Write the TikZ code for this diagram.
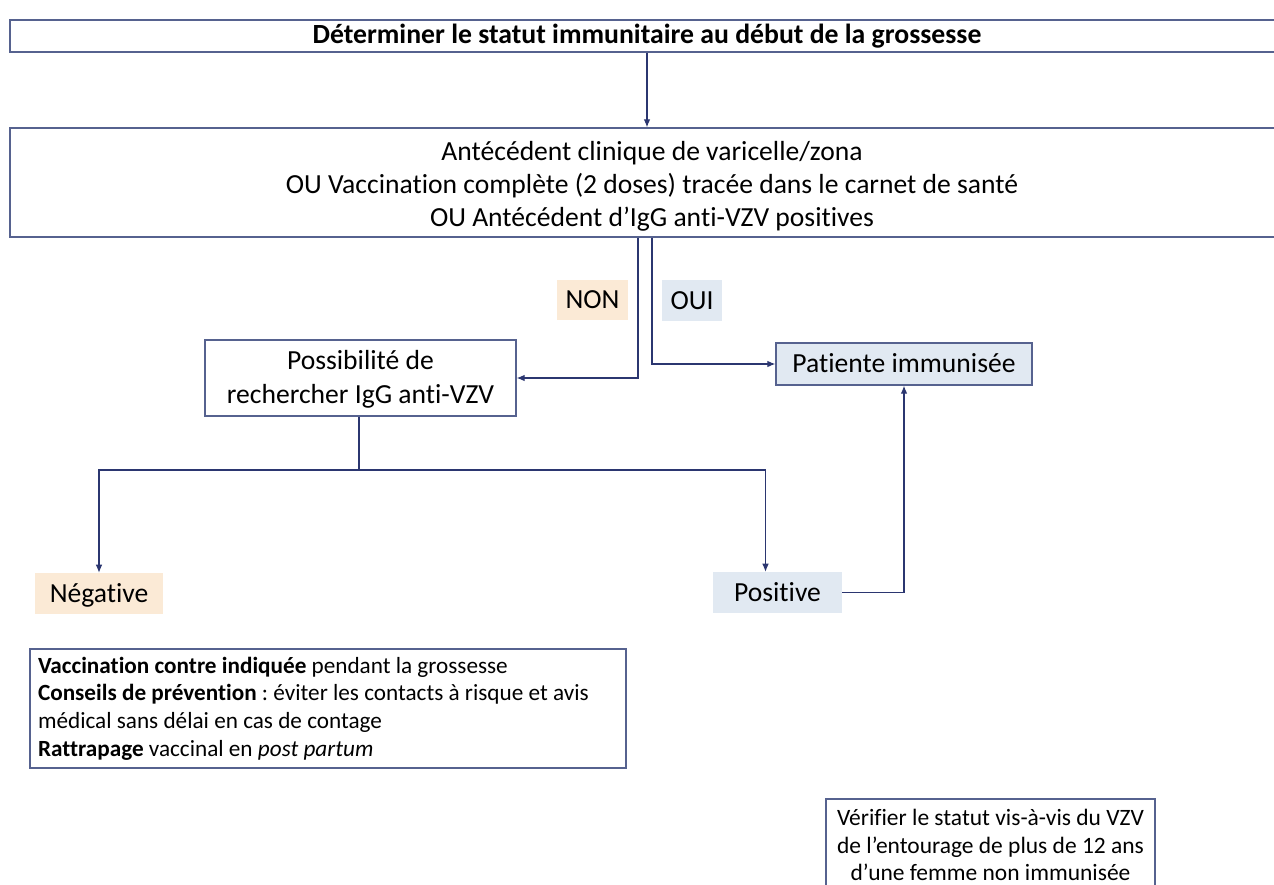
\documentclass[tikz,border=0pt]{standalone}
\usepackage{fontspec}
\setmainfont{Carlito}[Ligatures={NoCommon,TeX}]
\usepackage{tikz}
\usetikzlibrary{arrows.meta}
\frenchspacing

\definecolor{boxline}{HTML}{56628F}
\definecolor{linkcol}{HTML}{2B3670}
\definecolor{peach}{HTML}{FBEAD6}
\definecolor{paleblue}{HTML}{E1E9F2}

% texte multi-ligne un peu abaisse dans son cadre
\newcommand{\lowtext}[2]{\raisebox{-#1}[\height][\depth]{\begin{tabular}{@{}c@{}}#2\end{tabular}}}

\tikzset{
	box/.style={draw=boxline, line width=1.1pt, inner sep=0pt, align=center,
		font=\fontsize{20.7}{24.8}\selectfont},
	tag/.style={inner sep=0pt, text height=17.4pt, text depth=4.1pt,
		font=\fontsize{20.7}{24.8}\selectfont},
	link/.style={draw=linkcol, line width=0.8pt, -{Latex[length=6pt,width=5pt]}},
	plain/.style={draw=linkcol, line width=0.8pt}
}

\begin{document}
\begin{tikzpicture}[x=0.75pt,y=-0.75pt]
	\useasboundingbox (0,0) rectangle (1274,885);
	\clip (0,0) rectangle (1274,885);
	%\draw[help lines] (0,0) grid[step=100] (1274,885);
	\node[box, minimum width=1274*0.75pt, minimum height=32*0.75pt,
		font=\fontsize{20.8}{24}\selectfont\bfseries] (debut) at (647,36)
		{Déterminer le statut immunitaire au début de la grossesse};
	\node[box, minimum width=1284*0.75pt, minimum height=109*0.75pt] (crit) at (652,182.5)
		{\lowtext{3pt}{Antécédent clinique de varicelle/zona\\
		 OU Vaccination complète (2 doses) tracée dans le carnet de santé\\
		 OU Antécédent d’IgG anti-VZV positives}};
	\node[tag, fill=peach, minimum width=71*0.75pt, minimum height=40*0.75pt] (non) at (592.5,300) {NON};
	\node[tag, fill=paleblue, minimum width=60*0.75pt, minimum height=41*0.75pt] (oui) at (692,300.5) {OUI};
	\node[box, minimum width=311*0.75pt, minimum height=76*0.75pt,
		font=\fontsize{20.7}{25.5}\selectfont] (poss) at (360.5,378)
		{\lowtext{1.5pt}{Possibilité de\\rechercher IgG anti-VZV}};
	\node[box, fill=paleblue, minimum width=256*0.75pt, minimum height=42*0.75pt,
		text height=17.4pt, text depth=4.1pt] (immun) at (904,364)
		{Patiente immunisée};
	\node[tag, fill=peach, minimum width=128*0.75pt, minimum height=41*0.75pt] (neg) at (99,593.5) {Négative};
	\node[tag, fill=paleblue, minimum width=129*0.75pt, minimum height=41*0.75pt] (pos) at (777.5,592.5) {Positive};
	\node[box, minimum width=596*0.75pt, minimum height=119*0.75pt, align=flush left, text width=580*0.75pt,
		font=\fontsize{17.4}{20.8}\selectfont] (conseil) at (328,708.5)
		{\textbf{Vaccination contre indiquée} pendant la grossesse\\
		 \textbf{Conseils de prévention} : éviter les contacts à risque et avis\\
		 médical sans délai en cas de contage\\
		 \textbf{Rattrapage} vaccinal en \textit{post partum}};
	\node[box, minimum width=329*0.75pt, minimum height=92*0.75pt,
		font=\fontsize{17.6}{20.6}\selectfont] (entourage) at (990.5,845)
		{Vérifier le statut vis-à-vis du VZV\\
		 de l’entourage de plus de 12 ans\\
		 d’une femme non immunisée};
	\coordinate (split) at (359,470);
	% connecteurs
	\draw[link] (debut.south) -- (debut.south |- crit.north);
	\draw[link] ([xshift=-10.5pt]crit.south) |- (poss.east);
	\draw[link] (crit.south) |- (immun.west);
	\draw[plain] (poss.south -| split) -- (split);
	\draw[link] (split) -| (neg.north);
	\draw[link] (split) -| ([xshift=-9pt]pos.north);
	\draw[link] (pos.east) -| (immun.south);
\end{tikzpicture}
\end{document}
